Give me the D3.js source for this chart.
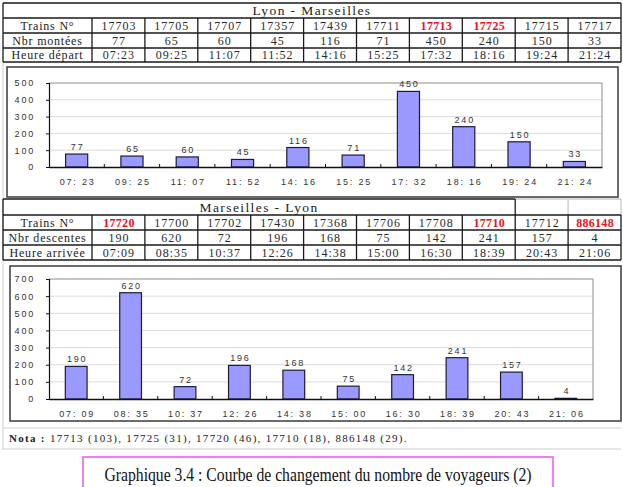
<!DOCTYPE html>
<html>
<head>
<meta charset="utf-8">
<script src="https://cdn.jsdelivr.net/npm/d3@7"></script>
<style>
  body { margin: 0; background: #fff; }
  svg { display: block; }
</style>
</head>
<body>
<script>
// Lyon -> Marseilles
const lmTrains = ["17703", "17705", "17707", "17357", "17439", "17711", "17713", "17725", "17715", "17717"];
const lmCounts = [77, 65, 60, 45, 116, 71, 450, 240, 150, 33];
const lmTimes = ["07:23", "09:25", "11:07", "11:52", "14:16", "15:25", "17:32", "18:16", "19:24", "21:24"];
const lmRed = ["17713", "17725"];
const lmTicks = [0, 100, 200, 300, 400, 500];

// Marseilles -> Lyon
const mlTrains = ["17720", "17700", "17702", "17430", "17368", "17706", "17708", "17710", "17712", "886148"];
const mlCounts = [190, 620, 72, 196, 168, 75, 142, 241, 157, 4];
const mlTimes = ["07:09", "08:35", "10:37", "12:26", "14:38", "15:00", "16:30", "18:39", "20:43", "21:06"];
const mlRed = ["17720", "17710", "886148"];
const mlTicks = [0, 100, 200, 300, 400, 500, 600, 700];

const notaText = "17713 (103), 17725 (31), 17720 (46), 17710 (18), 886148 (29).";
const captionText = "Graphique 3.4 : Courbe de changement du nombre de voyageurs (2)";

const width = 623, height = 487;
const serif = "'Liberation Serif', 'Times New Roman', serif";
const sans = "'Liberation Sans', Arial, sans-serif";

let svg = d3.select("body").append("svg")
  .attr("width", width)
  .attr("height", height);

// chart axis labels look like "07: 23"
const spaced = t => t.replace(":", ": ");

// column edges of both tables
let colEdges = [3, 92];
for (let i = 1; i <= 10; i++) colEdges.push(92 + i * 52.9);

function drawTable(rowsY, title, titleEnd, rowLabels, trains, counts, times, red) {
  let g = svg.append("g");
  let left = colEdges[0], right = colEdges[colEdges.length - 1];
  let line = (x1, y1, x2, y2, c) => g.append("line")
    .attr("x1", x1).attr("y1", y1).attr("x2", x2).attr("y2", y2)
    .attr("stroke", c || "#1a1a1a").attr("stroke-width", 1.3);

  // title row
  line(left, rowsY[0], titleEnd, rowsY[0]);
  if (titleEnd < right) {
    line(titleEnd, rowsY[0], right, rowsY[0], "#c8c8c8");
    line(colEdges[10], rowsY[0], colEdges[10], rowsY[1], "#c8c8c8");
    line(right, rowsY[0], right, rowsY[1], "#c8c8c8");
    line(titleEnd, rowsY[0], titleEnd, rowsY[1]);
  } else {
    line(right, rowsY[0], right, rowsY[1]);
  }
  line(left, rowsY[0], left, rowsY[4]);
  g.append("text")
    .attr("x", (left + titleEnd) / 2)
    .attr("y", (rowsY[0] + rowsY[1]) / 2 + 4.5)
    .attr("text-anchor", "middle")
    .style("font-family", serif)
    .style("font-size", "13.5px")
    .style("letter-spacing", "1.4px")
    .style("fill", "#222")
    .text(title);

  // body rows
  for (let r = 1; r <= 4; r++) line(left, rowsY[r], right, rowsY[r]);
  colEdges.slice(1).forEach(x => line(x, rowsY[1], x, rowsY[4]));

  let rows = [trains, counts, times];
  rows.forEach((vals, r) => {
    let cy = (rowsY[r + 1] + rowsY[r + 2]) / 2 + 4;
    g.append("text")
      .attr("x", (colEdges[0] + colEdges[1]) / 2)
      .attr("y", cy)
      .attr("text-anchor", "middle")
      .style("font-family", serif)
      .style("font-size", "12px")
      .style("letter-spacing", "0.8px")
      .style("fill", "#222")
      .text(rowLabels[r]);
    g.selectAll(null)
      .data(vals)
      .enter()
      .append("text")
      .attr("x", (d, i) => (colEdges[i + 1] + colEdges[i + 2]) / 2 + 0.5)
      .attr("y", cy)
      .attr("text-anchor", "middle")
      .style("font-family", serif)
      .style("font-size", "12px")
      .style("letter-spacing", d => r === 0 && red.includes(d) ? "0.3px" : "1px")
      .style("font-weight", d => r === 0 && red.includes(d) ? "bold" : "normal")
      .style("fill", d => r === 0 && red.includes(d) ? "#e8141c" : "#2a2a2a")
      .text(d => d);
  });
}

function drawChart(frame, plot, labels, values, ticks) {
  let g = svg.append("g");
  g.append("rect")
    .attr("x", frame.x).attr("y", frame.y)
    .attr("width", frame.w).attr("height", frame.h)
    .attr("fill", "#fff")
    .attr("stroke", "#3a3a3a")
    .attr("stroke-width", 1.5);

  let x = d3.scaleBand()
    .domain(labels)
    .range([plot.x0, plot.x1])
    .paddingInner(0.6)
    .paddingOuter(0.3);
  let slots = d3.scaleBand().domain(labels).range([plot.x0, plot.x1]);
  let y = d3.scaleLinear()
    .domain([0, d3.max(ticks)])
    .range([plot.y1, plot.y0]);

  // grid lines
  g.selectAll(null)
    .data(ticks.slice(1, -1))
    .enter()
    .append("line")
    .attr("x1", plot.x0).attr("x2", plot.x1)
    .attr("y1", d => y(d)).attr("y2", d => y(d))
    .attr("stroke", "#dcdcdc");

  // plot border (top and right grey)
  g.append("path")
    .attr("d", `M${plot.x0},${plot.y0}H${plot.x1}V${plot.y1}`)
    .attr("fill", "none")
    .attr("stroke", "#8c8c8c");

  // bars
  g.selectAll(".bar")
    .data(values)
    .enter()
    .append("rect")
    .classed("bar", true)
    .attr("x", (d, i) => x(labels[i]))
    .attr("y", d => y(d))
    .attr("width", x.bandwidth())
    .attr("height", d => y(0) - y(d))
    .style("fill", "#9999ff")
    .style("stroke", "#1c1c3c")
    .style("stroke-width", 1.2);

  // value labels
  g.selectAll(null)
    .data(values)
    .enter()
    .append("text")
    .attr("x", (d, i) => x(labels[i]) + x.bandwidth() / 2 + 1)
    .attr("y", d => y(d) - 4)
    .attr("text-anchor", "middle")
    .style("font-family", sans)
    .style("font-size", "9px")
    .style("letter-spacing", "1.8px")
    .style("fill", "#333")
    .text(d => d);

  // y axis
  let yAxis = g.append("g")
    .attr("transform", `translate(${plot.x0},0)`)
    .call(d3.axisLeft(y).tickValues(ticks).tickSize(3).tickPadding(11));
  yAxis.select(".domain").attr("stroke", "#111").attr("stroke-width", 1.2);
  yAxis.selectAll(".tick line").attr("stroke", "#111");
  yAxis.selectAll("text")
    .style("font-family", sans)
    .style("font-size", "9px")
    .style("letter-spacing", "1.8px")
    .attr("fill", "#333");

  // x axis
  let xAxis = g.append("g")
    .attr("transform", `translate(0,${plot.y1})`)
    .call(d3.axisBottom(x).tickSize(0).tickPadding(12).tickFormat(spaced));
  xAxis.select(".domain").attr("stroke", "#111").attr("stroke-width", 1.3);
  xAxis.selectAll("text")
    .attr("dx", 1)
    .style("font-family", sans)
    .style("font-size", "9px")
    .style("letter-spacing", "1.8px")
    .attr("fill", "#333");
  g.selectAll(null)
    .data(labels.slice(1))
    .enter()
    .append("line")
    .attr("x1", d => slots(d)).attr("x2", d => slots(d))
    .attr("y1", plot.y1).attr("y2", plot.y1 - 3)
    .attr("stroke", "#111");
}

// faint page border on the left
svg.append("line")
  .attr("x1", 3).attr("x2", 3).attr("y1", 62).attr("y2", 450)
  .attr("stroke", "#cfcfcf");

drawTable([3, 18, 33, 48, 62], "Lyon -  Marseilles", colEdges[11],
  ["Trains N°", "Nbr montées", "Heure départ"], lmTrains, lmCounts, lmTimes, lmRed);
drawChart({x: 7, y: 67, w: 611, h: 130}, {x0: 49, x1: 602, y0: 83, y1: 167},
  lmTimes, lmCounts, lmTicks);

drawTable([199, 215, 230, 245, 260], "Marseilles -  Lyon", colEdges[9],
  ["Trains N°", "Nbr  descentes", "Heure arrivée"], mlTrains, mlCounts, mlTimes, mlRed);
drawChart({x: 10, y: 266, w: 611, h: 155}, {x0: 49, x1: 593, y0: 279, y1: 399},
  mlTimes, mlCounts, mlTicks);

// Nota row
svg.append("line").attr("x1", 3).attr("x2", 621).attr("y1", 428).attr("y2", 428).attr("stroke", "#cfcfcf");
svg.append("line").attr("x1", 3).attr("x2", 621).attr("y1", 449).attr("y2", 449).attr("stroke", "#cfcfcf");
let nota = svg.append("text")
  .attr("x", 9)
  .attr("y", 442)
  .style("font-family", serif)
  .style("font-size", "11px")
  .style("letter-spacing", "1.3px")
  .style("fill", "#222");
nota.append("tspan").style("font-weight", "bold").text("Nota : ");
nota.append("tspan").text(notaText);

// caption box
svg.append("rect")
  .attr("x", 83).attr("y", 457)
  .attr("width", 470).attr("height", 40)
  .attr("fill", "none")
  .attr("stroke", "#e85ae8")
  .attr("stroke-width", 1.5);
svg.append("text")
  .attr("x", 318)
  .attr("y", 481)
  .attr("text-anchor", "middle")
  .attr("textLength", 427)
  .attr("lengthAdjust", "spacingAndGlyphs")
  .style("font-family", serif)
  .style("font-size", "18.5px")
  .style("fill", "#111")
  .text(captionText);
</script>
</body>
</html>
